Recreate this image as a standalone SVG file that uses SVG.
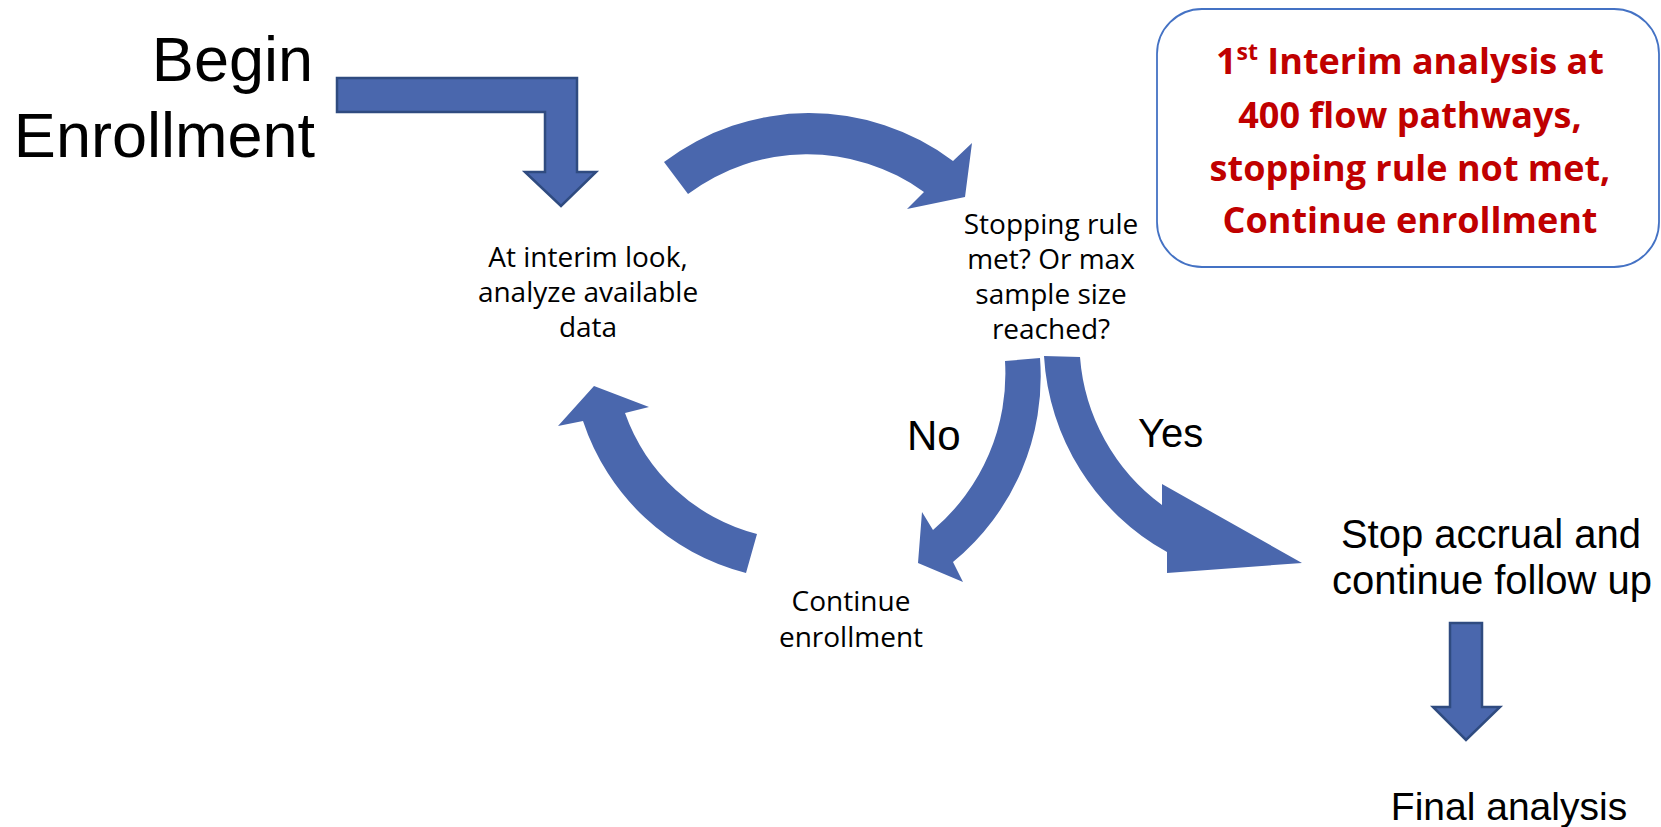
<svg xmlns="http://www.w3.org/2000/svg" width="1661" height="827" viewBox="0 0 1661 827">
<style>
.big{font-family:"Liberation Sans",Arial,sans-serif;fill:#000}
.sm{font-family:"Open Sans","Noto Sans",sans-serif;font-size:28px;fill:#000;text-anchor:middle}
.red{font-family:"Open Sans","Noto Sans",sans-serif;font-weight:700;font-size:36px;fill:#C00000;text-anchor:middle}
.blk{fill:#4A67AD;stroke:#2F4B80;stroke-width:2.5;stroke-linejoin:miter}
.arc{fill:#4A67AD;stroke:none}
</style>
<rect width="1661" height="827" fill="#fff"/>
<g id="begin">
<text class="big" font-size="63" text-anchor="end" x="313" y="81">Begin</text>
<text class="big" font-size="63" text-anchor="end" x="315" y="157">Enrollment</text>
</g>
<g id="interim">
<text class="sm" x="588" y="267">At interim look,</text>
<text class="sm" x="588" y="302">analyze available</text>
<text class="sm" x="588" y="337">data</text>
</g>
<g id="stopping">
<text class="sm" x="1051" y="234">Stopping rule</text>
<text class="sm" x="1051" y="269">met? Or max</text>
<text class="sm" x="1051" y="304">sample size</text>
<text class="sm" x="1051" y="339">reached?</text>
</g>
<g id="continue">
<text class="sm" x="851" y="611">Continue</text>
<text class="sm" x="851" y="647">enrollment</text>
</g>
<g id="stop-accrual">
<text class="big" font-size="40" text-anchor="middle" x="1491" y="548">Stop accrual and</text>
<text class="big" font-size="40" text-anchor="middle" x="1492" y="594">continue follow up</text>
</g>
<g id="final">
<text class="big" font-size="39" text-anchor="middle" x="1509" y="820">Final analysis</text>
</g>
<g id="note">
<rect x="1157" y="9" width="502" height="258" rx="45" ry="45" fill="#fff" stroke="#4472C4" stroke-width="1.8"/>
<text class="red" x="1410" y="74">1<tspan font-size="23" dy="-14">st</tspan><tspan dy="14"> Interim analysis at</tspan></text>
<text class="red" x="1410" y="128">400 flow pathways,</text>
<text class="red" x="1410" y="181">stopping rule not met,</text>
<text class="red" x="1410" y="233">Continue enrollment</text>
</g>
<g id="connectors">
<path class="blk" d="M337,78 L577,78 L577,172 L596,172 L561,206 L525,172 L545,172 L545,112 L337,112 Z"/>
<path class="arc" d="M664,162 A240,240 0 0 1 953,161 L972,143 L965,197 L907,209 L924,192 A199,199 0 0 0 688,194 Z"/>
<path class="arc" d="M746,573 A232,232 0 0 1 583,421 L558,426 L594,386 L649,407 L625,413 A190,190 0 0 0 757,534 Z"/>
<path class="arc" d="M1005,361 L1040,358 A240,240 0 0 1 953,562 L963,582 L918,563 L922,512 L933,530 A205,205 0 0 0 1005,361 Z"/>
<path class="arc" d="M1044,356 L1080,357 A203,203 0 0 0 1162,505 L1162,484 L1302,563 L1167,573 L1167,552 A240,240 0 0 1 1044,356 Z"/>
<path class="blk" d="M1450,623 L1482,623 L1482,707 L1500,707 L1466,740 L1433,707 L1450,707 Z"/>
<text class="big" font-size="42" x="907" y="450">No</text>
<text class="big" font-size="40" x="1138" y="447">Yes</text>
</g>
</svg>
